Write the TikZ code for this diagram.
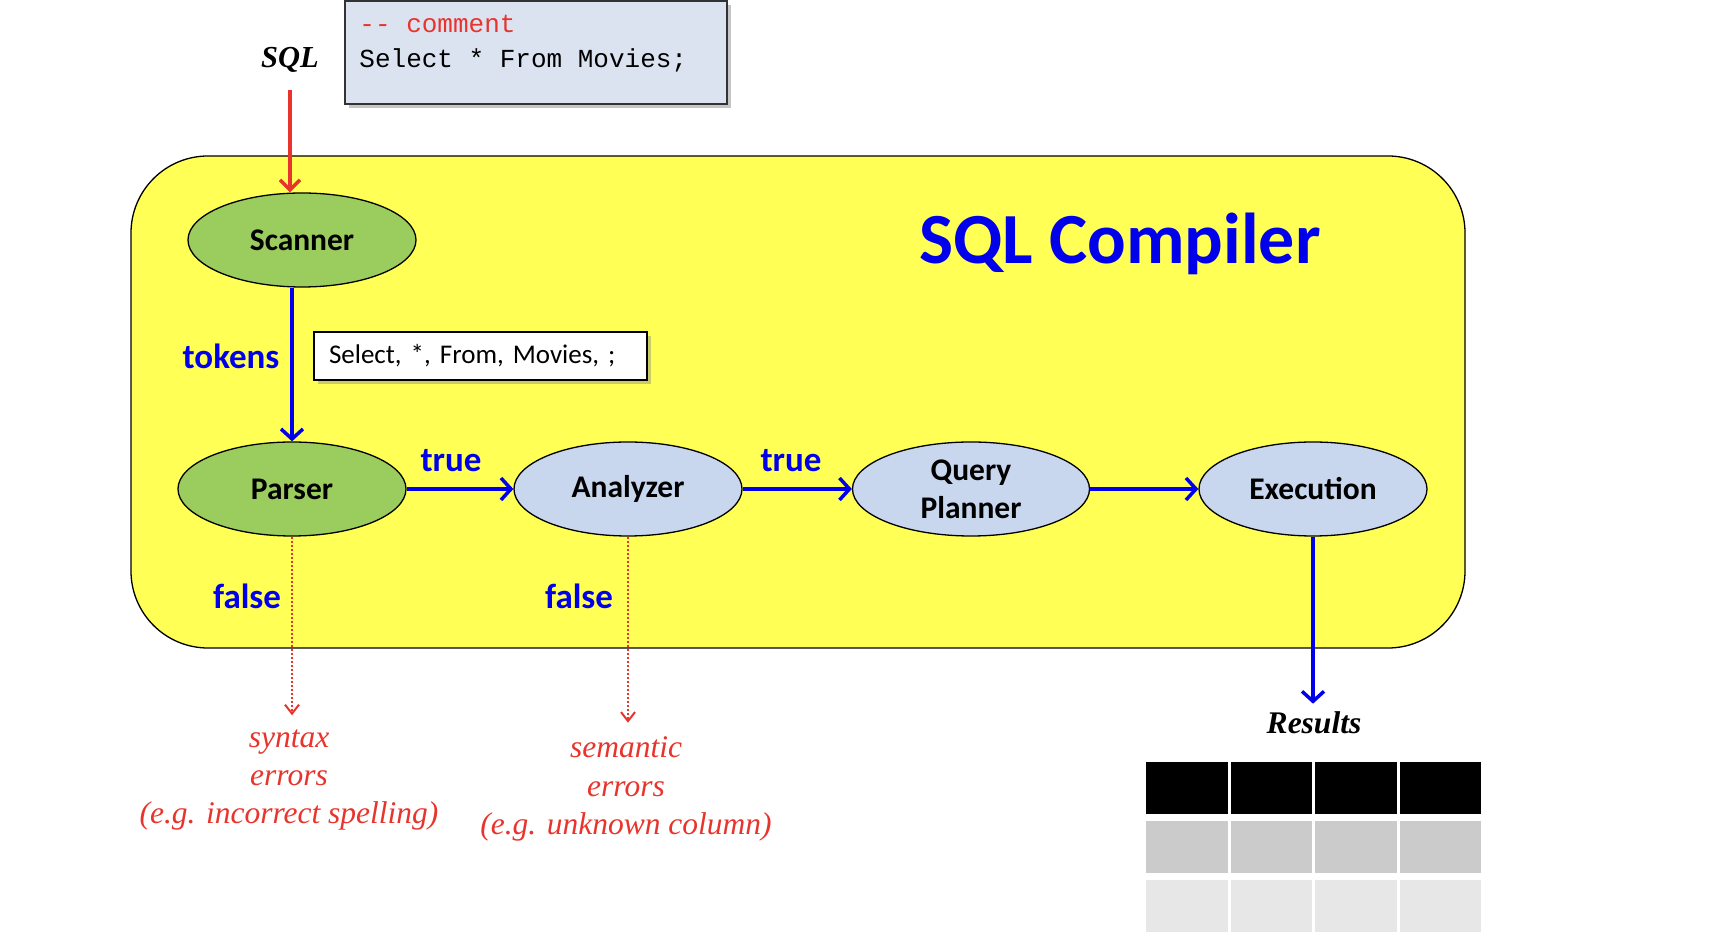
\documentclass[tikz,border=0pt]{standalone}
\usepackage{fontspec}
\setmainfont{Liberation Serif}
\setsansfont{Carlito}
\setmonofont{Liberation Mono}
\usetikzlibrary{arrows.meta,shapes.geometric,shadows}
\definecolor{compyellow}{RGB}{255,255,85}
\definecolor{stagegreen}{RGB}{155,204,94}
\definecolor{stageblue}{RGB}{200,214,238}
\definecolor{codefill}{RGB}{220,227,240}
\definecolor{lblblue}{RGB}{0,0,235}
\definecolor{errred}{RGB}{232,52,44}
\definecolor{cellgray}{RGB}{203,203,203}
\definecolor{celllight}{RGB}{231,231,231}
\newcommand{\fsz}[2]{\fontsize{#1}{#2}\selectfont}

\begin{document}
\begin{tikzpicture}[x=1pt,y=1pt,
      stage/.style={ellipse,draw=black,line width=1.3pt,inner sep=0pt,minimum width=228pt,
        minimum height=94pt,align=center,font=\sffamily\bfseries\fsz{31.5}{38}},
      lbl/.style={text=lblblue,font=\sffamily\bfseries\fsz{35}{40}},
      errtxt/.style={text=errred,align=center,inner sep=14pt,font=\itshape\fsz{31.5}{38.3}},
      codebox/.style={draw=black!80,line width=1.5pt,fill=codefill,minimum width=382pt,minimum height=103pt,
        drop shadow={shadow xshift=4pt,shadow yshift=-4pt,opacity=.45}},
      tokbox/.style={draw=black,line width=1.2pt,fill=white,text width=303pt,inner xsep=15pt,align=left,
        minimum height=48pt,font=\sffamily\fsz{27}{32},drop shadow={shadow xshift=4pt,shadow yshift=-4pt,opacity=.4}},
      flow/.style={draw=lblblue,line width=3.8pt,-{Straight Barb[length=10pt,width=22pt,line width=3.5pt]}},
      sqlflow/.style={draw=errred,line width=3.8pt,-{Straight Barb[length=10pt,width=20pt,line width=3.5pt]}},
      errflow/.style={draw=errred,line width=2.2pt,dash pattern=on 2pt off 2pt,
        -{Straight Barb[length=9pt,width=14pt,line width=2pt]}}]
      \useasboundingbox (0,0) rectangle (1714,948);
      \draw[fill=compyellow,line width=1.3pt,rounded corners=77pt] (131,300) rectangle (1465,792);
      \node[codebox] (code) at (536,895.5) {};
      \node[anchor=west,align=left,inner sep=0pt,font=\ttfamily\fsz{26}{35}] (codetext) at ([shift={(15,9)}]code.west)
         {\textcolor{errred}{-{}- comment}\\Select * From Movies;};
      \node[font=\bfseries\itshape\fsz{30.5}{36}] (sql) at (290,888) {SQL};
      \node[stage,fill=stagegreen] (scanner) at (302,708) {Scanner};
      \node[stage,fill=stagegreen] (parser) at (292,459) {Parser};
      \node[stage,fill=stageblue] (analyzer) at (628,459) {Analyzer};
      \node[stage,fill=stageblue,minimum width=237pt] (planner) at (971,459) {Query\\Planner};
      \node[stage,fill=stageblue] (exec) at (1313,459) {Execution};
      \node[text=lblblue,font=\sffamily\bfseries\fsz{72}{80}] (title) at (1120,704) {SQL Compiler};
      \node[lbl] (tokens) at (231,592) {tokens};
      \node[tokbox] (toklist) at (480.5,592) {Select, *, From, Movies, ;};
      \node[lbl] (true1) at (451,487) {true};
      \node[lbl] (true2) at (791,487) {true};
      \node[lbl] (false1) at (247,352) {false};
      \node[lbl] (false2) at (579,352) {false};
      \node[errtxt] (syntax) at (289,168) {syntax\\errors\\(e.g. incorrect spelling)};
      \node[errtxt] (semantic) at (626,159) {semantic\\errors\\(e.g. unknown column)};
      \node[font=\bfseries\itshape\fsz{31.5}{36},inner sep=8pt] (results) at (1314,225) {Results};
      \draw[sqlflow] ([yshift=-14pt]sql.south) -- (sql.south |- scanner.north);
      \draw[flow] (scanner.south -| parser) -- (parser.north);
      \draw[flow] (parser) -- (analyzer);
      \draw[flow] (analyzer) -- (planner);
      \draw[flow] (planner) -- (exec);
      \draw[flow] (exec.south) -- (exec.south |- results.north);
      \draw[errflow] (parser.south) -- (parser.south |- syntax.north);
      \draw[errflow] (analyzer.south) -- (analyzer.south |- semantic.north);
      \foreach \r/\cellcol in {0/black,1/cellgray,2/celllight}
        \foreach \c in {0,...,3}
          \fill[\cellcol] (1146+\c*84.5,186-\r*59) rectangle ++(81.5,-52);
    \end{tikzpicture}
\end{document}
